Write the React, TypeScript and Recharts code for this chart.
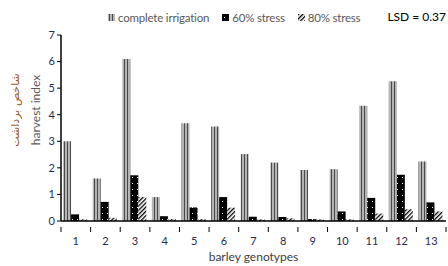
import { Bar, BarChart, XAxis, YAxis } from 'recharts';

// barley genotypes 1..13
const genotypes = ['1', '2', '3', '4', '5', '6', '7', '8', '9', '10', '11', '12', '13'];
// harvest index per treatment
const completeIrrigation = [3.0, 1.6, 6.1, 0.9, 3.68, 3.56, 2.52, 2.2, 1.92, 1.95, 4.34, 5.26, 2.24];
const stress60 = [0.25, 0.72, 1.72, 0.18, 0.51, 0.9, 0.16, 0.15, 0.07, 0.36, 0.87, 1.74, 0.7];
const stress80 = [0.06, 0.12, 0.9, 0.07, 0.07, 0.5, 0.06, 0.1, 0.06, 0.06, 0.28, 0.44, 0.36];
const yTicks = [0, 1, 2, 3, 4, 5, 6, 7];

const chartData = genotypes.map((g, i) => ({
  genotype: g,
  full: completeIrrigation[i],
  s60: stress60[i],
  s80: stress80[i],
}));

const W = 448;
const H = 266;
const MARGIN = { top: 35, right: 2, left: 0, bottom: 0 };
const Y_AXIS_W = 61;
const X_AXIS_H = 45;
const TICK_MARGIN = 9;
// カテゴリ幅（境界目盛り用）
const BAND = (W - MARGIN.left - MARGIN.right - Y_AXIS_W) / genotypes.length;

const font = 'Lato, "Open Sans", sans-serif';
const tickColor = '#1f2d4d';
const textGray = '#595959';

const legendItems = [
  { label: 'complete irrigation', fill: 'url(#stripes)' },
  { label: '60% stress', fill: 'url(#dots)' },
  { label: '80% stress', fill: 'url(#hatch)' },
];

// 凡例（上部中央）
function TopLegend() {
  return (
    <div
      style={{
        position: 'absolute',
        left: 108,
        top: 11,
        display: 'flex',
        gap: 13,
        whiteSpace: 'nowrap',
        fontFamily: font,
        fontSize: 11.5,
        letterSpacing: -0.2,
        color: textGray,
      }}
    >
      {legendItems.map((it) => (
        <div key={it.label} style={{ display: 'flex', alignItems: 'center', gap: 3 }}>
          <svg width={7} height={7}>
            <rect width={7} height={7} fill={it.fill} />
          </svg>
          <span>{it.label}</span>
        </div>
      ))}
    </div>
  );
}

// X軸の目盛り：ラベル + カテゴリ境界の目盛り線
function GenotypeTick({ x, y, payload, index }: any) {
  const axisY = y - TICK_MARGIN;
  const left = x - BAND / 2;
  const right = x + BAND / 2;
  return (
    <g>
      <line x1={left} x2={left} y1={axisY} y2={axisY + 5} stroke="#000" />
      {index === genotypes.length - 1 && <line x1={right} x2={right} y1={axisY} y2={axisY + 5} stroke="#000" />}
      <text x={x} y={y} dy={9} textAnchor="middle" fontSize={11} fill={tickColor} fontFamily={font}>
        {payload.value}
      </text>
    </g>
  );
}

// Y軸タイトル（ペルシア語 + 英語）
function YTitle({ viewBox }: any) {
  const cy = viewBox.y + viewBox.height / 2 - 18;
  return (
    <g>
      <text
        x={15}
        y={cy}
        transform={`rotate(-90 15 ${cy})`}
        textAnchor="middle"
        dominantBaseline="central"
        fontFamily='"DejaVu Sans", sans-serif'
        fontSize={11}
        fill="#9c5a2c"
      >
        شاخص برداشت
      </text>
      <text
        x={35}
        y={cy}
        transform={`rotate(-90 35 ${cy})`}
        textAnchor="middle"
        dominantBaseline="central"
        fontFamily={font}
        fontSize={12}
        fill={textGray}
      >
        harvest index
      </text>
    </g>
  );
}

export default function App() {
  return (
    <div style={{ position: 'relative', width: W, height: H, background: '#fff' }}>
      <style>{'body{margin:0}'}</style>
      <div
        style={{
          position: 'absolute',
          right: 2,
          top: 9,
          whiteSpace: 'nowrap',
          fontFamily: font,
          fontSize: 12,
          color: '#000',
        }}
      >
        LSD = 0.37
      </div>
      <BarChart width={W} height={H} data={chartData} margin={MARGIN} barCategoryGap="7%" barGap={0}>
        <defs>
          <pattern id="stripes" width={3} height={4} patternUnits="userSpaceOnUse">
            <rect width={3} height={4} fill="#b4b4b4" />
            <rect x={1} width={1} height={4} fill="#4a4a4a" />
          </pattern>
          <pattern id="dots" width={5} height={6} patternUnits="userSpaceOnUse">
            <rect width={5} height={6} fill="#000" />
            <rect x={2} y={3} width={1} height={1} fill="#fff" />
          </pattern>
          <pattern id="hatch" width={3} height={3} patternUnits="userSpaceOnUse" patternTransform="rotate(45)">
            <rect width={3} height={3} fill="#fff" />
            <rect width={1.3} height={3} fill="#000" />
          </pattern>
        </defs>
        <XAxis
          dataKey="genotype"
          height={X_AXIS_H}
          interval={0}
          tickLine={false}
          axisLine={{ stroke: '#000', strokeWidth: 1.5 }}
          tick={<GenotypeTick />}
          tickMargin={TICK_MARGIN}
          label={{
            value: 'barley genotypes',
            position: 'insideBottom',
            offset: 5,
            style: { fontSize: 12, fill: '#404040', fontFamily: font },
          }}
        />
        <YAxis
          width={Y_AXIS_W}
          domain={[0, 7]}
          ticks={yTicks}
          interval={0}
          axisLine={{ stroke: '#000', strokeWidth: 1.5 }}
          tickLine={{ stroke: '#000' }}
          tickSize={4}
          tick={{ fontSize: 11, fill: tickColor, fontFamily: font }}
          label={<YTitle />}
        />
        <Bar dataKey="full" name="complete irrigation" fill="url(#stripes)" isAnimationActive={false} />
        <Bar dataKey="s60" name="60% stress" fill="url(#dots)" isAnimationActive={false} />
        <Bar dataKey="s80" name="80% stress" fill="url(#hatch)" isAnimationActive={false} />
      </BarChart>
      <TopLegend />
    </div>
  );
}
